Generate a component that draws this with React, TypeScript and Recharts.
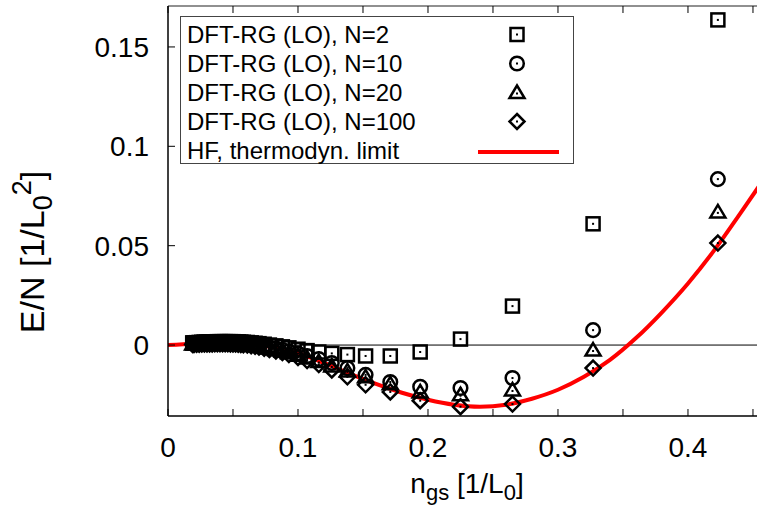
import React from "react";
import { ComposedChart, XAxis, YAxis, Scatter, Line, ReferenceLine, Legend } from "recharts";

const FONT = "'Liberation Sans', Arial, Helvetica, sans-serif";

// ground-state densities n_gs [1/L0], shared by all N
const densities = [
    0.423, 0.327, 0.265, 0.225, 0.194, 0.171, 0.152, 0.138, 0.126, 0.116,
    0.107, 0.100, 0.093, 0.088, 0.083, 0.078, 0.074, 0.070, 0.067, 0.064,
    0.061, 0.058, 0.056, 0.054, 0.052, 0.050, 0.048, 0.046, 0.044, 0.042,
    0.040, 0.038, 0.036, 0.034, 0.032, 0.030, 0.028, 0.026, 0.024, 0.022,
    0.020, 0.019,
];

const energyN2 = [
    0.1636, 0.061, 0.0196, 0.003, -0.0035, -0.0055, -0.0055, -0.0048, -0.0042, -0.0035,
    -0.0028, -0.0021, -0.0014, -0.0009, -0.0004, 0.0, 0.0004, 0.0007, 0.0009, 0.0011,
    0.0013, 0.0014, 0.0015, 0.0016, 0.0016, 0.0017, 0.0017, 0.0017, 0.0017, 0.0017,
    0.0017, 0.0017, 0.0016, 0.0016, 0.0016, 0.0015, 0.0015, 0.0014, 0.0013, 0.0012,
    0.0011, 0.0011,
];

const energyN10 = [
    0.0835, 0.0075, -0.0166, -0.0216, -0.021, -0.0186, -0.015, -0.0116, -0.009, -0.007,
    -0.0055, -0.0042, -0.0032, -0.0024, -0.0017, -0.0011, -0.0006, -0.0002, 0.0001, 0.0003,
    0.0005, 0.0007, 0.0008, 0.0009, 0.001, 0.0011, 0.0011, 0.0012, 0.0012, 0.0012,
    0.0012, 0.0012, 0.0012, 0.0011, 0.0011, 0.0011, 0.001, 0.001, 0.0009, 0.0009,
    0.0008, 0.0008,
];

const energyN20 = [
    0.067, -0.0025, -0.0226, -0.025, -0.0236, -0.0195, -0.016, -0.013, -0.0105, -0.0083,
    -0.0065, -0.0051, -0.0039, -0.003, -0.0022, -0.0015, -0.001, -0.0005, -0.0002, 0.0,
    0.0002, 0.0004, 0.0005, 0.0006, 0.0007, 0.0008, 0.0008, 0.0009, 0.0009, 0.0009,
    0.0009, 0.0009, 0.0009, 0.0008, 0.0008, 0.0008, 0.0007, 0.0007, 0.0006, 0.0006,
    0.0005, 0.0005,
];

const energyN100 = [
    0.0513, -0.0116, -0.0297, -0.031, -0.028, -0.0236, -0.02, -0.016, -0.0125, -0.0098,
    -0.0078, -0.0062, -0.0048, -0.0038, -0.003, -0.0022, -0.0016, -0.001, -0.0006, -0.0003,
    0.0, 0.0002, 0.0003, 0.0004, 0.0005, 0.0006, 0.0006, 0.0007, 0.0007, 0.0007,
    0.0007, 0.0007, 0.0007, 0.0006, 0.0006, 0.0006, 0.0005, 0.0005, 0.0004, 0.0004,
    0.0003, 0.0003,
];

// HF, thermodynamic limit
const hfDensity = [
    0, 0.02, 0.04, 0.06, 0.08, 0.1, 0.12, 0.14, 0.16, 0.18, 0.2, 0.22,
    0.24, 0.26, 0.28, 0.3, 0.32, 0.34, 0.36, 0.38, 0.4, 0.42, 0.44, 0.46,
];
const hfEnergy = [
    0, 0.0007, 0.001, 0.0005, -0.001, -0.004, -0.009, -0.0145, -0.0195, -0.024, -0.0275, -0.03,
    -0.031, -0.03, -0.027, -0.0225, -0.016, -0.0075, 0.0035, 0.0165, 0.031, 0.0475, 0.066, 0.085,
];

const xTicks = [0, 0.05, 0.1, 0.15, 0.2, 0.25, 0.3, 0.35, 0.4, 0.45];
const xTickLabels: Record<string, string> = { "0": "0", "0.1": "0.1", "0.2": "0.2", "0.3": "0.3", "0.4": "0.4" };
const yTicks = [0, 0.05, 0.1, 0.15];

const X_MAX = 0.4531;
const Y_MIN = -0.0357;
const Y_MAX = 0.1706;

const toPoints = (ys: number[]) => densities.map((x, i) => ({ x, y: ys[i] }));
const hfData = hfDensity.map((x, i) => ({ x, y: hfEnergy[i] }));

const MK = { stroke: "#000", strokeWidth: 2.5, fill: "none" };

const dot = (cx: number, cy: number) => <rect x={cx - 1} y={cy - 1} width={2} height={2} fill="#000" />;

const squareMark = (cx: number, cy: number) => (
    <g>
        <rect x={cx - 6.5} y={cy - 6.5} width={13} height={13} {...MK} />
        {dot(cx, cy)}
    </g>
);
const circleMark = (cx: number, cy: number) => (
    <g>
        <circle cx={cx} cy={cy} r={6.8} {...MK} />
        {dot(cx, cy)}
    </g>
);
const triangleMark = (cx: number, cy: number) => (
    <g>
        <polygon points={`${cx},${cy - 7} ${cx + 7.5},${cy + 5.5} ${cx - 7.5},${cy + 5.5}`} {...MK} strokeLinejoin="miter" />
        {dot(cx, cy + 1)}
    </g>
);
const diamondMark = (cx: number, cy: number) => (
    <g>
        <polygon points={`${cx},${cy - 7.5} ${cx + 7.5},${cy} ${cx},${cy + 7.5} ${cx - 7.5},${cy}`} {...MK} />
        {dot(cx, cy)}
    </g>
);

const shapeOf = (fn: (cx: number, cy: number) => React.ReactElement) => (props: any) =>
    props.cx == null ? <g /> : fn(props.cx, props.cy);

const BottomTick = (props: any) => {
    const { x, y, payload } = props;
    const label = xTickLabels[String(payload.value)];
    return (
        <g>
            <line x1={x} x2={x} y1={y} y2={y - 7} stroke="#000" strokeWidth={1} />
            {label && (
                <text x={x} y={y + 41} textAnchor="middle" fontSize={28} fontFamily={FONT} fill="#000">
                    {label}
                </text>
            )}
        </g>
    );
};

const TopTick = (props: any) => {
    const { x, y } = props;
    return <line x1={x} x2={x} y1={y} y2={y + 7} stroke="#000" strokeWidth={1} />;
};

const LeftTick = (props: any) => {
    const { x, y, payload } = props;
    return (
        <g>
            <line x1={x} x2={x + 7} y1={y} y2={y} stroke="#000" strokeWidth={1} />
            <text x={x - 19} y={y + 10} textAnchor="end" fontSize={28} fontFamily={FONT} fill="#000">
                {String(payload.value)}
            </text>
        </g>
    );
};

const legendRows = [
    { name: "DFT-RG (LO), N=2", mark: squareMark },
    { name: "DFT-RG (LO), N=10", mark: circleMark },
    { name: "DFT-RG (LO), N=20", mark: triangleMark },
    { name: "DFT-RG (LO), N=100", mark: diamondMark },
    { name: "HF, thermodyn. limit", mark: null },
];

const LegendBox = () => (
    <div
        style={{
            boxSizing: "border-box",
            width: 394,
            height: 148,
            border: "1.5px solid #444",
            background: "#fff",
            paddingTop: 3,
            fontFamily: FONT,
            fontSize: 24,
            color: "#000",
        }}
    >
        {legendRows.map(row => (
            <div key={row.name} style={{ position: "relative", height: 29, lineHeight: "29px", paddingLeft: 6 }}>
                {row.name}
                <svg width={90} height={29} style={{ position: "absolute", left: 295, top: 0 }}>
                    {row.mark ? row.mark(41, 14.5) : <line x1={2} x2={83} y1={16} y2={16} stroke="#ff0000" strokeWidth={4} />}
                </svg>
            </div>
        ))}
    </div>
);

const YLabel = () => (
    <text
        transform="translate(44, 252) rotate(-90)"
        textAnchor="middle"
        fontSize={34}
        fontFamily={FONT}
        fill="#000"
    >
        E/N [1/L
        <tspan fontSize={27} dy={8}>0</tspan>
        <tspan fontSize={27} dy={-21}>2</tspan>
        <tspan dy={13}>]</tspan>
    </text>
);

const XLabel = () => (
    <text x={467} y={493} textAnchor="middle" fontSize={28} fontFamily={FONT} fill="#000">
        n<tspan fontSize={22} dy={7}>gs</tspan>
        <tspan dy={-7}> [1/L</tspan>
        <tspan fontSize={22} dy={7}>0</tspan>
        <tspan dy={-7}>]</tspan>
    </text>
);

export default function App() {
    return (
        <div style={{ position: "absolute", left: 0, top: 0, width: 757, height: 508, overflow: "hidden", background: "#fff" }}>
            <ComposedChart width={757} height={508} margin={{ top: 0, right: 0, bottom: 0, left: 0 }}>
                <XAxis
                    xAxisId="b"
                    type="number"
                    dataKey="x"
                    orientation="bottom"
                    domain={[0, X_MAX]}
                    allowDataOverflow
                    ticks={xTicks}
                    height={92}
                    tickSize={0}
                    tickMargin={0}
                    tick={<BottomTick />}
                    axisLine={{ stroke: "#000", strokeWidth: 1.5 }}
                    interval={0}
                    label={{ content: () => <XLabel /> }}
                />
                <XAxis
                    xAxisId="t"
                    type="number"
                    dataKey="x"
                    orientation="top"
                    domain={[0, X_MAX]}
                    allowDataOverflow
                    ticks={xTicks}
                    height={6}
                    tickSize={0}
                    tickMargin={0}
                    tick={<TopTick />}
                    axisLine={{ stroke: "#222", strokeWidth: 1.2 }}
                    interval={0}
                />
                <YAxis
                    yAxisId="l"
                    type="number"
                    dataKey="y"
                    domain={[Y_MIN, Y_MAX]}
                    allowDataOverflow
                    ticks={yTicks}
                    width={168}
                    tickSize={0}
                    tickMargin={0}
                    tick={<LeftTick />}
                    axisLine={{ stroke: "#000", strokeWidth: 1.5 }}
                    interval={0}
                    label={{ content: () => <YLabel /> }}
                />
                <ReferenceLine xAxisId="b" yAxisId="l" y={0} stroke="#000" strokeWidth={1} />
                <Scatter xAxisId="b" yAxisId="l" name="N=2" data={toPoints(energyN2)} dataKey="y" shape={shapeOf(squareMark)} isAnimationActive={false} />
                <Scatter xAxisId="b" yAxisId="l" name="N=10" data={toPoints(energyN10)} dataKey="y" shape={shapeOf(circleMark)} isAnimationActive={false} />
                <Scatter xAxisId="b" yAxisId="l" name="N=20" data={toPoints(energyN20)} dataKey="y" shape={shapeOf(triangleMark)} isAnimationActive={false} />
                <Scatter xAxisId="b" yAxisId="l" name="N=100" data={toPoints(energyN100)} dataKey="y" shape={shapeOf(diamondMark)} isAnimationActive={false} />
                <Line
                    xAxisId="b"
                    yAxisId="l"
                    data={hfData}
                    dataKey="y"
                    type="monotone"
                    stroke="#ff0000"
                    strokeWidth={4}
                    dot={false}
                    activeDot={false}
                    isAnimationActive={false}
                />
                <Legend
                    layout="horizontal"
                    verticalAlign="middle"
                    align="center"
                    wrapperStyle={{ left: 180, top: 16, width: 394, height: 148 }}
                    content={() => <LegendBox />}
                />
            </ComposedChart>
        </div>
    );
}
